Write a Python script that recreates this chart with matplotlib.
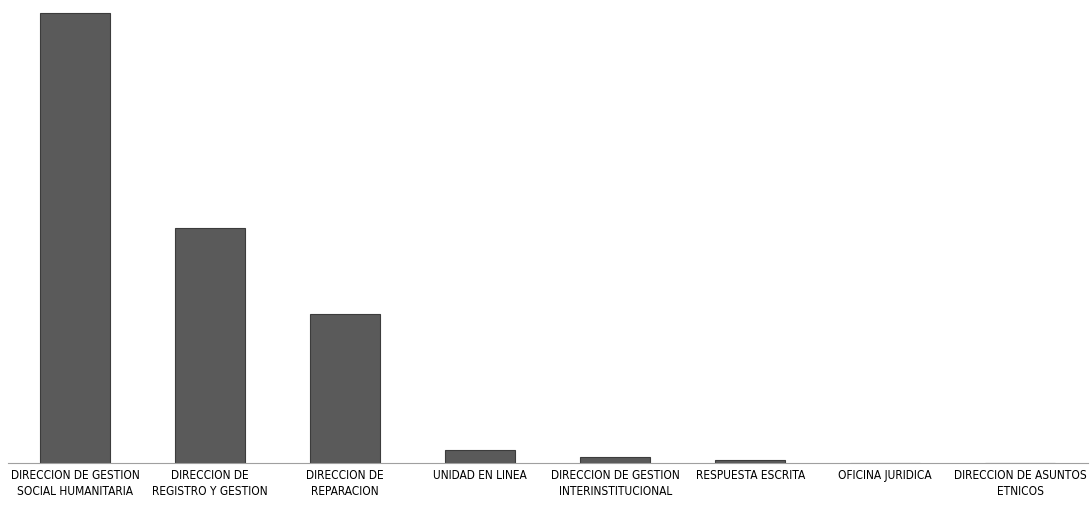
import matplotlib.pyplot as plt
import numpy as np

plt.rcParams['font.family'] = ['DejaVu Sans']

# Categorias y valores de cada dependencia
categorias = [
    "DIRECCION DE GESTION\nSOCIAL HUMANITARIA",
    "DIRECCION DE\nREGISTRO Y GESTION",
    "DIRECCION DE\nREPARACION",
    "UNIDAD EN LINEA",
    "DIRECCION DE GESTION\nINTERINSTITUCIONAL",
    "RESPUESTA ESCRITA",
    "OFICINA JURIDICA",
    "DIRECCION DE ASUNTOS\nETNICOS",
]
valores = [450, 235, 149, 13, 6, 3, 0, 0]

fig = plt.figure(figsize=(10.92, 5.08), dpi=100)
ax = fig.add_axes([0.007, 0.0886, 0.989, 0.9114])

x = np.arange(len(categorias))
ax.bar(x, valores, width=0.52, color='#5a5a5a', edgecolor='#3c3c3c', linewidth=0.8)

ax.set_xlim(-0.5, len(categorias) - 0.5)
ax.set_ylim(0, 463)
ax.set_xticks(x)
ax.set_xticklabels(categorias, fontsize=8.6, fontstretch='condensed', linespacing=1.3)
ax.tick_params(axis='x', length=0, pad=4)
ax.set_yticks([])

for lado in ['top', 'right', 'left']:
    ax.spines[lado].set_visible(False)
ax.spines['bottom'].set_color('#a0a0a0')
ax.spines['bottom'].set_linestyle((0, (2, 1)))
ax.spines['bottom'].set_linewidth(0.8)

fig.savefig('out.png', dpi=100)
